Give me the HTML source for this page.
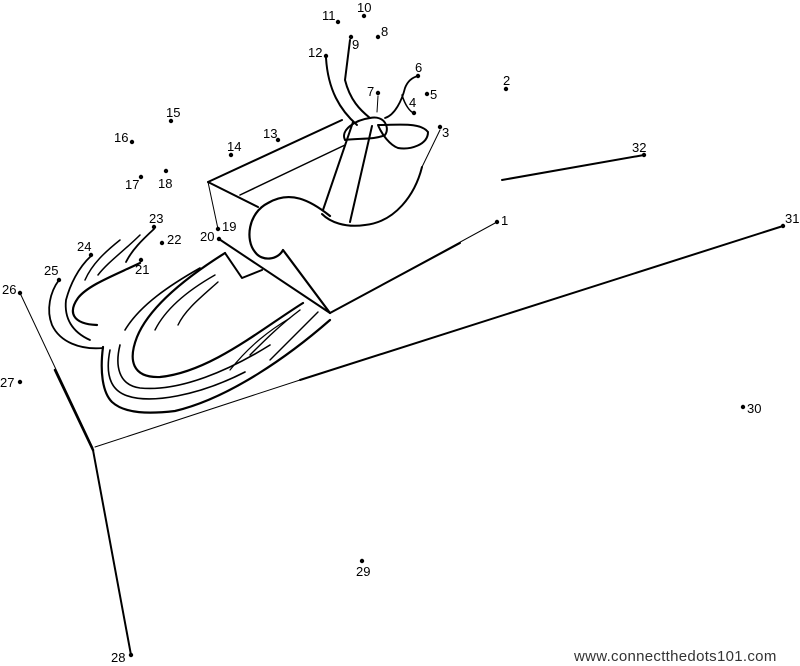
<!DOCTYPE html>
<html><head><style>
html,body{margin:0;padding:0;background:#fff}
svg{display:block}
text{font-family:"Liberation Sans",sans-serif;font-size:13px;fill:#000}
</style></head><body>
<svg width="800" height="666" viewBox="0 0 800 666" xmlns="http://www.w3.org/2000/svg">
<g fill="none" stroke="#000" stroke-linecap="round" stroke-linejoin="round">
<!-- ground lines -->
<path d="M20 293 L93 448" stroke-width="1"/>
<path d="M55 370 L93 450" stroke-width="2.5"/>
<path d="M93 450 L131 655" stroke-width="2"/>
<path d="M95 447 L300 380" stroke-width="1"/>
<path d="M300 380 L783 226" stroke-width="2"/>
<path d="M330 313 L497 222" stroke-width="1"/>
<path d="M330 313 L460 243" stroke-width="2"/>
<path d="M502 180 L644 155" stroke-width="2"/>
<!-- box -->
<path d="M208 182 L342 120" stroke-width="2"/>
<path d="M208 182 L258 207" stroke-width="2"/>
<path d="M240 195 L345 145" stroke-width="1.5"/>
<path d="M208 182 L218 229" stroke-width="1"/>
<path d="M219 239 L330 313" stroke-width="2"/>
<path d="M225 253 L242 278 L262 270" stroke-width="2"/>
<!-- body blob -->
<path d="M330 216 C310 200 290 190 268 203 C248 213 245 240 255 252 C262 262 278 260 283 250 L330 313" stroke-width="2.2"/>
<path d="M322 214 C330 222 345 228 365 225 C395 222 415 195 422 167" stroke-width="2"/>
<path d="M422 167 L440 130" stroke-width="1"/>
<path d="M323 210 L353 122" stroke-width="2"/>
<path d="M350 222 L372 126" stroke-width="2"/>
<!-- bow / head -->
<path d="M345 140 C340 130 355 120 370 118 C385 115 390 128 385 135 C375 140 358 138 345 140 Z" stroke-width="2"/>
<path d="M378 125 C400 125 420 122 428 132 C428 145 410 150 398 148 C390 145 382 135 378 125" stroke-width="2"/>
<path d="M370 118 C360 110 350 100 345 80 L350 40" stroke-width="2"/>
<path d="M357 125 C340 110 328 90 326 58" stroke-width="2"/>
<path d="M385 118 C395 115 402 100 405 88 C408 80 414 77 418 76" stroke-width="1.8"/>
<path d="M402 95 C405 105 410 112 414 113" stroke-width="1.5"/>
<path d="M377 112 L378 96" stroke-width="1"/>
<!-- runners: big U -->
<path d="M225 253 C190 275 150 305 137 337 C128 360 132 378 160 377 C210 372 260 330 303 303" stroke-width="2.2"/>
<path d="M103 347 C100 370 102 392 112 402 C125 414 150 414 175 411 C230 398 290 355 330 320" stroke-width="2.2"/>
<path d="M110 350 C106 370 108 388 125 395 C150 405 200 395 245 372" stroke-width="1.6"/>
<path d="M120 345 C115 365 118 385 140 388 C180 392 230 370 270 345" stroke-width="1.6"/>
<path d="M200 268 C170 285 140 305 125 330" stroke-width="1.6"/>
<path d="M215 275 C185 292 165 310 155 330" stroke-width="1.4"/>
<path d="M218 282 C200 298 185 310 178 325" stroke-width="1.4"/>
<path d="M300 310 C280 325 265 340 250 355" stroke-width="1.4"/>
<path d="M318 312 C300 330 285 345 270 360" stroke-width="1.4"/>
<path d="M290 318 C270 330 250 345 230 370" stroke-width="1.2"/>
<!-- small loop -->
<path d="M140 263 C115 275 88 285 78 298 C68 312 72 324 97 325" stroke-width="2.2"/>
<path d="M59 280 C50 292 46 310 52 325 C60 342 80 350 103 348" stroke-width="1.8"/>
<path d="M91 256 C78 268 70 285 66 300 C64 318 72 332 90 340" stroke-width="1.8"/>
<path d="M154 229 C142 240 132 250 126 262" stroke-width="1.8"/>
<path d="M140 235 C125 250 108 262 98 275" stroke-width="1.5"/>
<path d="M120 240 C105 252 92 264 85 280" stroke-width="1.5"/>
</g>
<g fill="#000">
<circle cx="497" cy="222" r="2.2"/><circle cx="506" cy="89" r="2.2"/><circle cx="440" cy="127" r="2.2"/>
<circle cx="414" cy="113" r="2.2"/><circle cx="427" cy="94" r="2.2"/><circle cx="418" cy="76" r="2.2"/>
<circle cx="378" cy="93" r="2.2"/><circle cx="378" cy="37" r="2.2"/><circle cx="351" cy="37" r="2.2"/>
<circle cx="364" cy="16" r="2.2"/><circle cx="338" cy="22" r="2.2"/><circle cx="326" cy="56" r="2.2"/>
<circle cx="278" cy="140" r="2.2"/><circle cx="231" cy="155" r="2.2"/><circle cx="171" cy="121" r="2.2"/>
<circle cx="132" cy="142" r="2.2"/><circle cx="141" cy="177" r="2.2"/><circle cx="166" cy="171" r="2.2"/>
<circle cx="218" cy="229" r="2.2"/><circle cx="219" cy="239" r="2.2"/><circle cx="141" cy="260" r="2.2"/>
<circle cx="162" cy="243" r="2.2"/><circle cx="154" cy="227" r="2.2"/><circle cx="91" cy="255" r="2.2"/>
<circle cx="59" cy="280" r="2.2"/><circle cx="20" cy="293" r="2.2"/><circle cx="20" cy="382" r="2.2"/>
<circle cx="131" cy="655" r="2.2"/><circle cx="362" cy="561" r="2.2"/><circle cx="743" cy="407" r="2.2"/>
<circle cx="783" cy="226" r="2.2"/><circle cx="644" cy="155" r="2.2"/>
</g>
<text x="501" y="225">1</text><text x="503" y="85">2</text><text x="442" y="137">3</text>
<text x="409" y="107">4</text><text x="430" y="99">5</text><text x="415" y="72">6</text>
<text x="367" y="96">7</text><text x="381" y="36">8</text><text x="352" y="49">9</text>
<text x="357" y="12">10</text><text x="322" y="20">11</text><text x="308" y="57">12</text>
<text x="263" y="138">13</text><text x="227" y="151">14</text><text x="166" y="117">15</text>
<text x="114" y="142">16</text><text x="125" y="189">17</text><text x="158" y="188">18</text>
<text x="222" y="231">19</text><text x="200" y="241">20</text><text x="135" y="274">21</text>
<text x="167" y="244">22</text><text x="149" y="223">23</text><text x="77" y="251">24</text>
<text x="44" y="275">25</text><text x="2" y="294">26</text><text x="0" y="387">27</text>
<text x="111" y="662">28</text><text x="356" y="576">29</text><text x="747" y="413">30</text>
<text x="785" y="223">31</text><text x="632" y="152">32</text>
<text x="574" y="661" style="font-size:15px;fill:#333;letter-spacing:0.3px">www.connectthedots101.com</text>
</svg>
</body></html>
